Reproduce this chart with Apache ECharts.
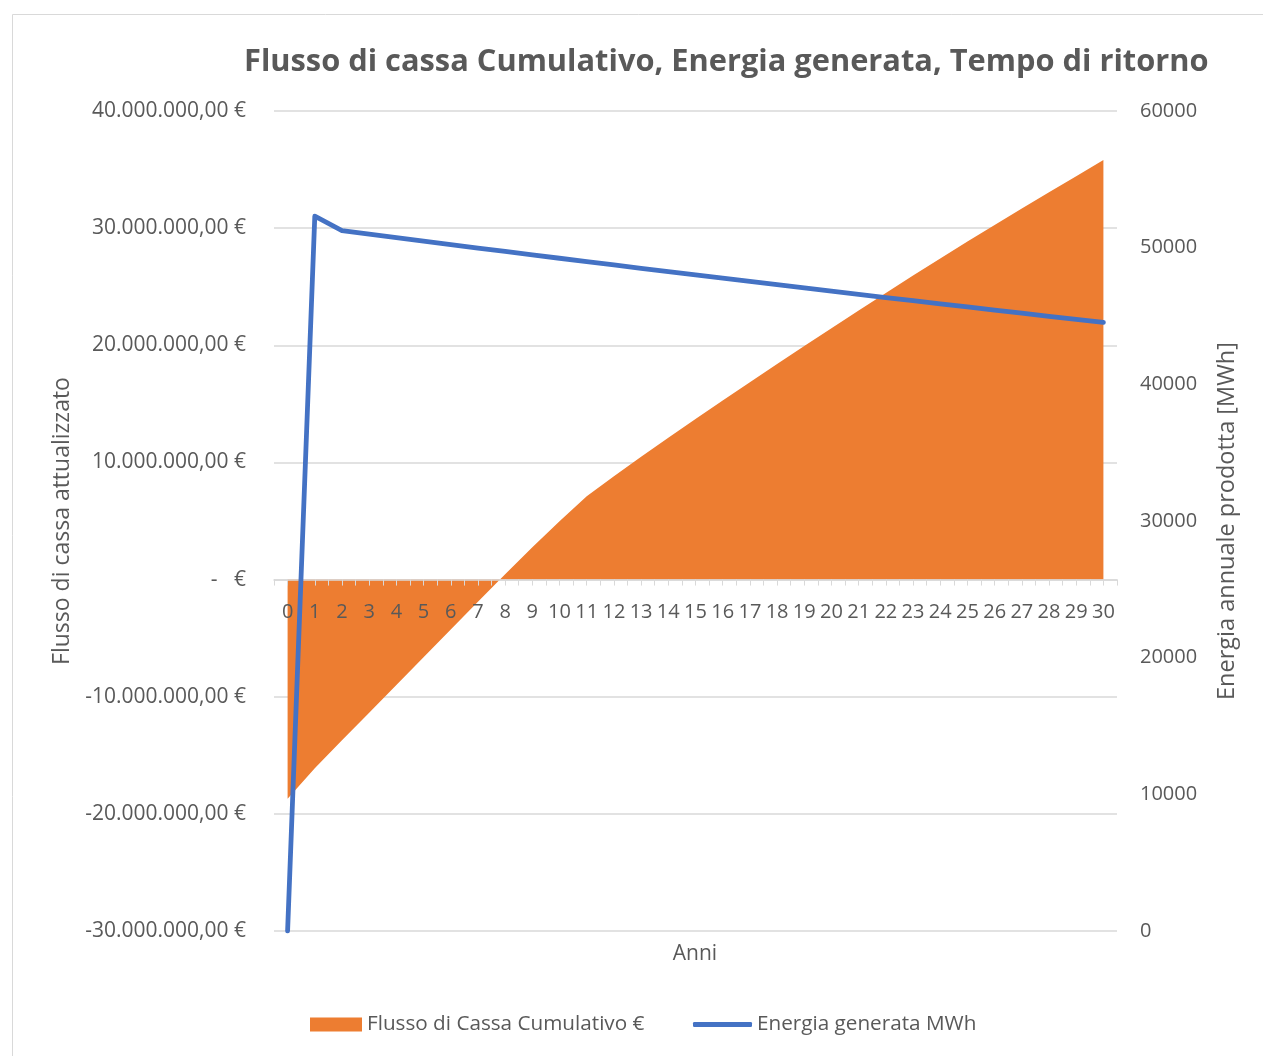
<!DOCTYPE html>
<html><head><meta charset="utf-8">
<script src="https://cdn.jsdelivr.net/npm/echarts@6/dist/echarts.min.js"></script>
<style>html,body{margin:0;padding:0;background:#fff}#c{width:1263px;height:1056px}</style>
</head><body><div id="c"></div>
<script>
const years = ["0","1","2","3","4","5","6","7","8","9","10","11","12","13","14","15","16","17","18","19","20","21","22","23","24","25","26","27","28","29","30"];
const cashFlow = [-18700000,-16100000,-13720000,-11360000,-8990000,-6630000,-4260000,-1890000,450000,2750000,4980000,7110000,8830000,10490000,12110000,13710000,15290000,16850000,18400000,19940000,21460000,22970000,24470000,25950000,27410000,28850000,30270000,31670000,33060000,34440000,35810000];
const energy = [0,52300,51240,50984,50729,50475,50223,49972,49722,49473,49226,48980,48735,48491,48249,48008,47768,47529,47291,47055,46819,46585,46352,46120,45890,45660,45432,45205,44979,44754,44530];
const leftTicks = {min:-30000000, max:40000000, interval:10000000};
const rightTicks = {min:0, max:60000, interval:10000};

const TXT = '#595959', GRID = '#d9d9d9', FONT = 'Open Sans';
function eur(v){
  if (v === 0) return '-   €';
  const neg = v < 0; const a = Math.abs(v);
  const s = Math.round(a).toString().replace(/\B(?=(\d{3})+(?!\d))/g, '.');
  return (neg ? '-' : '') + s + ',00 €';
}
const chart = echarts.init(document.getElementById('c'));
chart.setOption({
  animation:false,
  textStyle:{fontFamily:FONT},
  title:{text:'Flusso di cassa Cumulativo, Energia generata, Tempo di ritorno', left:239, top:42,
    textStyle:{fontFamily:FONT, fontWeight:'bold', fontSize:30.8, color:TXT}},
  graphic:[
    {type:'rect', left:10, top:12, shape:{width:1300, height:1100}, style:{fill:'none', stroke:GRID, lineWidth:1}, silent:true},
    {type:'text', x:695, y:944, style:{text:'Anni', fill:TXT, font:'21px "Open Sans"', textAlign:'center'}}
  ],
  legend:[
    {data:['Flusso di Cassa Cumulativo €'], left:305, top:1009, icon:'rect', itemWidth:52, itemHeight:14, itemGap:7,
     textStyle:{color:TXT, fontSize:20.7, fontFamily:FONT}},
    {data:['Energia generata MWh'], left:688, top:1009, icon:'roundRect', itemWidth:59, itemHeight:5,
     textStyle:{color:TXT, fontSize:20.7, fontFamily:FONT}}
  ],
  grid:{left:274, right:146, top:111, bottom:125},
  xAxis:[
    {type:'category', data:years, boundaryGap:true, position:'bottom', z:2,
     axisLine:{show:false, onZero:true, onZeroAxisIndex:0},
     axisTick:{show:true, interval:0, alignWithLabel:true, length:6, lineStyle:{color:GRID}},
     axisLabel:{show:false}},
    {type:'category', data:years, boundaryGap:true, position:'bottom', z:2,
     axisLine:{onZero:true, onZeroAxisIndex:0, lineStyle:{color:GRID, width:1.5}},
     axisTick:{show:true, interval:0, length:6, lineStyle:{color:GRID}},
     axisLabel:{interval:0, margin:-329, fontSize:20, color:TXT, fontFamily:FONT}}
  ],
  yAxis:[
    {type:'value', min:leftTicks.min, max:leftTicks.max, interval:leftTicks.interval,
     name:'Flusso di cassa attualizzato', nameLocation:'middle', nameGap:200, nameRotate:90,
     nameTextStyle:{fontSize:23, color:TXT, fontFamily:FONT},
     axisLine:{show:false}, axisTick:{show:false},
     splitLine:{lineStyle:{color:GRID, width:1.5}},
     axisLabel:{formatter:eur, margin:28, fontSize:21, color:TXT, fontFamily:FONT}},
    {type:'value', min:rightTicks.min, max:rightTicks.max, interval:rightTicks.interval, position:'right',
     name:'Energia annuale prodotta [MWh]', nameLocation:'middle', nameGap:98, nameRotate:90,
     nameTextStyle:{fontSize:23.5, color:TXT, fontFamily:FONT},
     axisLine:{show:false}, axisTick:{show:false}, splitLine:{show:false},
     axisLabel:{margin:23, fontSize:20, color:TXT, fontFamily:FONT, formatter:function(v){return String(v);}}}
  ],
  series:[
    {name:'Flusso di Cassa Cumulativo €', type:'line', data:cashFlow, xAxisIndex:1, yAxisIndex:0, symbol:'none', z:1,
     color:'#ED7D31', lineStyle:{width:0}, areaStyle:{color:'#ED7D31', opacity:1}},
    {name:'Energia generata MWh', type:'line', data:energy, xAxisIndex:1, yAxisIndex:1, symbol:'none', z:3,
     color:'#4472C4', lineStyle:{width:4.8, color:'#4472C4', cap:'round', join:'round'}}
  ]
});
</script></body></html>
